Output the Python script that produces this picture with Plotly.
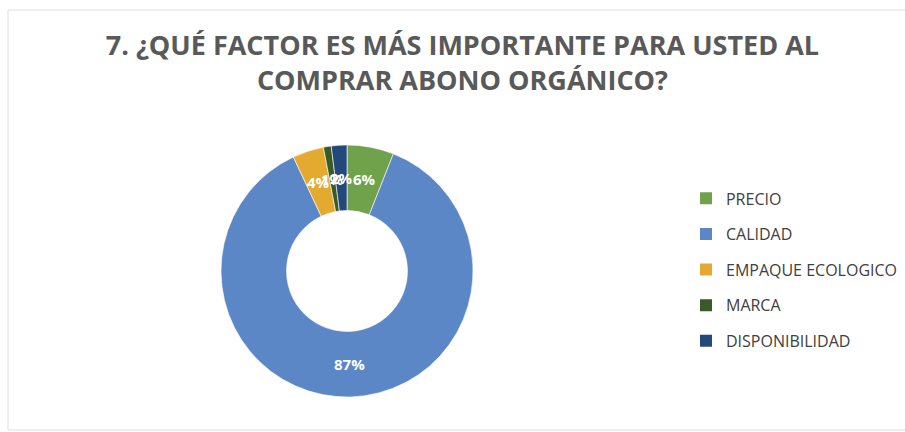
import math
import plotly.graph_objects as go

labels = ["PRECIO", "CALIDAD", "EMPAQUE ECOLOGICO", "MARCA", "DISPONIBILIDAD"]
values = [6, 87, 4, 1, 2]
colors = ["#6FA24A", "#5B87C6", "#E3AA2F", "#3A5A26", "#22497A"]
title_text = "7. ¿QUÉ FACTOR ES MÁS IMPORTANTE PARA USTED AL<br>COMPRAR ABONO ORGÁNICO?"

W, H = 905, 432
cx, cy, r = 347, 271, 126
hole = 0.48

fig = go.Figure()
fig.add_trace(go.Pie(
    labels=labels,
    values=values,
    hole=hole,
    sort=False,
    direction="clockwise",
    rotation=0,
    marker=dict(colors=colors, line=dict(color="rgba(255,255,255,0.6)", width=1)),
    textinfo="none",
    showlegend=False,
    hoverinfo="label+percent",
    domain=dict(x=[(cx - r) / W, (cx + r) / W], y=[(H - cy - r) / H, (H - cy + r) / H]),
))

# data labels at the middle of the ring, at each slice's mid-angle (Excel style)
total = sum(values)
cum = 0.0
rm = r * (1 + hole) / 2
annotations = []
for v in values:
    mid = (cum + v / 2) / total * 2 * math.pi
    cum += v
    px = cx + rm * math.sin(mid)
    py = cy - rm * math.cos(mid)
    annotations.append(dict(
        x=px / W, y=1 - py / H, xref="paper", yref="paper",
        xanchor="center", yanchor="middle",
        text=f"{round(100 * v / total)}%", showarrow=False,
        font=dict(family="Open Sans", size=15, color="white", weight="bold"),
    ))

for lab, col in zip(labels, colors):
    fig.add_trace(go.Scatter(
        x=[None], y=[None], mode="markers", name=lab, legendgroup=lab,
        marker=dict(symbol="square", size=9, color=col),
        showlegend=True,
    ))

fig.update_layout(
    width=W, height=H,
    margin=dict(l=0, r=0, t=0, b=0),
    paper_bgcolor="white", plot_bgcolor="white",
    title=dict(text=title_text, x=0.511, xanchor="center", y=0.872, yanchor="top",
               font=dict(family="Open Sans", size=27, color="#595959", weight="bold")),
    xaxis=dict(visible=False), yaxis=dict(visible=False),
    legend=dict(x=0.758, y=0.58, xanchor="left", yanchor="top",
                font=dict(family="Open Sans", size=16, color="#404040"),
                tracegroupgap=11.8, itemsizing="constant", bgcolor="rgba(0,0,0,0)"),
    annotations=annotations,
    shapes=[dict(type="rect", xref="paper", yref="paper",
                 x0=8 / W, x1=1.01, y0=(H - 430) / H, y1=(H - 10) / H,
                 line=dict(color="#E0E0E0", width=1), fillcolor="rgba(0,0,0,0)", layer="below")],
)

fig.write_html("out.html", config={"displayModeBar": False},
               post_script="document.body.style.margin='0';")
